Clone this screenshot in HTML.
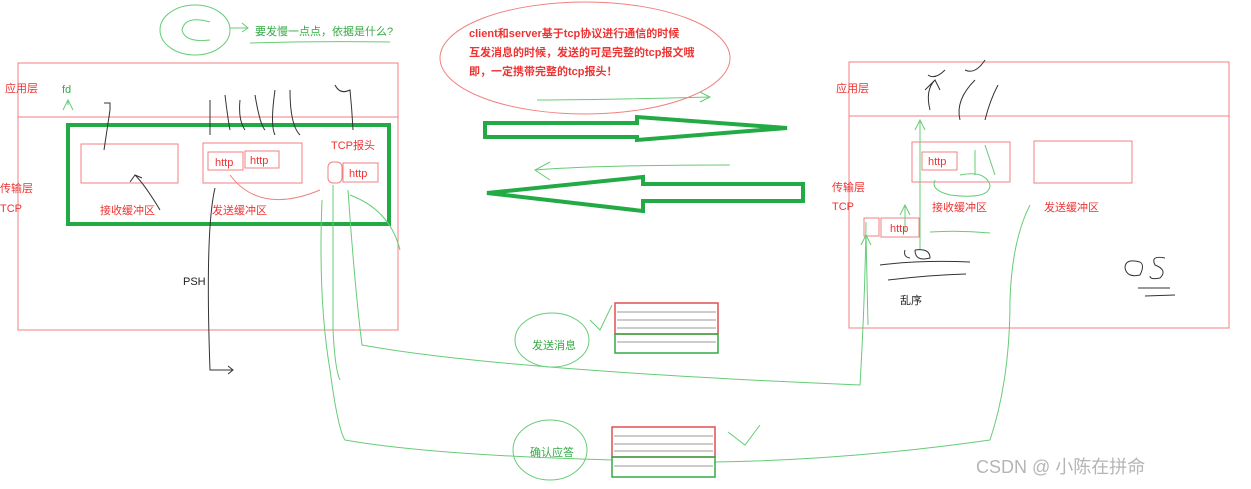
<!DOCTYPE html>
<html><head><meta charset="utf-8"><style>
html,body{margin:0;padding:0;background:#fff;}
svg{display:block;}
text{font-family:"Liberation Sans","Noto Sans CJK SC",sans-serif;}
</style></head><body>
<svg width="1251" height="489" viewBox="0 0 1251 489" xmlns="http://www.w3.org/2000/svg">
<g fill="none" stroke="#f08080" stroke-width="1">
<rect x="18" y="63" width="380" height="267"/>
<line x1="18" y1="117" x2="398" y2="117"/>
<rect x="81" y="144" width="97" height="39"/>
<rect x="203" y="143" width="99" height="40"/>
<rect x="208" y="152" width="35" height="18"/>
<rect x="245" y="151" width="34" height="17"/>
<rect x="328" y="162" width="14" height="21" rx="5"/>
<rect x="343" y="163" width="35" height="19"/>
<rect x="849" y="62" width="380" height="266"/>
<line x1="849" y1="116" x2="1229" y2="116"/>
<rect x="912" y="142" width="98" height="40"/>
<rect x="1034" y="141" width="98" height="42"/>
<rect x="922" y="152" width="35" height="18"/>
<rect x="864" y="218" width="15" height="18"/>
<rect x="881" y="218" width="38" height="19"/>
<ellipse cx="585" cy="58" rx="145" ry="56"/>
<path d="M230 175 Q260 215 320 190" />
</g>
<rect x="68" y="125" width="321" height="99" fill="none" stroke="#22aa44" stroke-width="4"/>
<path d="M485 123 H637 V117 L787 128 L637 140 V137 H485 Z" fill="none" stroke="#22aa44" stroke-width="4"/>
<path d="M487 193 L643 177 V184 H803 V201 H643 V211 Z" fill="none" stroke="#22aa44" stroke-width="4"/>
<g fill="none" stroke="#66cc77" stroke-width="1">
<ellipse cx="195" cy="30" rx="35" ry="25"/>
<path d="M210 22 Q185 15 182 30 Q185 43 210 40"/>
<path d="M230 28 H248 M242 23 L248 28 L242 32"/>
<path d="M250 43 Q320 41 390 42"/>
<path d="M537 100 Q600 100 710 97 M700 92 L710 97 L700 102"/>
<path d="M535 170 Q600 165 730 165 M550 162 L535 170 L550 180"/>
<ellipse cx="552" cy="340" rx="37" ry="27"/>
<ellipse cx="550" cy="450" rx="37" ry="30"/>
<path d="M590 320 L600 330 L612 305"/>
<path d="M728 432 L745 445 L760 425"/>
<path d="M322 200 Q318 300 330 370 Q338 430 345 440 Q430 455 612 460"/>
<path d="M715 462 Q850 460 990 440 Q1010 380 1010 300 Q1012 240 1030 205"/>
<path d="M348 190 Q355 290 362 345 Q500 370 860 385 Q865 300 866 222"/>
<path d="M333 185 V330 Q335 370 340 380"/>
<path d="M350 195 Q390 210 400 250"/>
<path d="M920 250 V120 M915 130 L920 120 L925 130"/>
<path d="M905 232 V205 M900 215 L905 205 L910 215"/>
<path d="M868 325 L866 235 M861 245 L866 235 L871 245"/>
<path d="M935 180 Q930 190 950 195 Q990 200 990 185 Q985 170 960 175"/>
<path d="M930 232 Q960 230 990 233"/>
<path d="M975 150 V175 M985 145 L995 175"/>
<path d="M63 110 L68 100 L73 110 M68 100 V105"/>
</g>
<g fill="none" stroke="#333" stroke-width="1">
<path d="M104 150 L110 110 M104 103 H110 L110 110"/>
<path d="M160 210 Q145 185 135 175 L130 182 M135 175 L142 178"/>
<path d="M215 188 Q205 230 210 370 H233 M228 366 L233 370 L228 374"/>
<path d="M210 100 V135 M225 95 Q228 120 230 130 M240 100 Q238 120 245 130 M255 95 Q260 125 265 130 M275 90 Q270 125 275 135 M290 90 Q290 125 300 135"/>
<path d="M335 85 Q340 95 350 90 Q352 110 353 130"/>
<path d="M930 110 Q925 90 935 80 M925 90 L935 80 L940 90"/>
<path d="M960 120 Q955 100 975 80 M985 120 Q990 100 998 85"/>
<path d="M928 75 Q935 80 945 70 M965 70 Q975 75 985 60"/>
<path d="M880 265 Q920 260 970 262 M888 280 Q930 275 966 274"/>
<path d="M905 250 Q903 257 910 258 M915 250 Q930 248 930 258 Q915 262 915 250"/>
<path d="M1140 262 Q1125 258 1125 268 Q1127 278 1140 275 Q1145 265 1140 262 M1165 258 Q1150 255 1155 265 Q1168 270 1160 278 Q1150 280 1150 276"/>
<line x1="1138" y1="288" x2="1170" y2="288"/><line x1="1145" y1="296" x2="1175" y2="295"/>
</g>
<g font-size="11" fill="#ee3333">
<text x="5" y="92">应用层</text>
<text x="0" y="192">传输层</text>
<text x="0" y="212">TCP</text>
<text x="100" y="214">接收缓冲区</text>
<text x="212" y="214">发送缓冲区</text>
<text x="331" y="149">TCP报头</text>
<text x="215" y="166">http</text>
<text x="250" y="164">http</text>
<text x="349" y="177">http</text>
<text x="836" y="92">应用层</text>
<text x="832" y="191">传输层</text>
<text x="832" y="210">TCP</text>
<text x="932" y="211">接收缓冲区</text>
<text x="1044" y="211">发送缓冲区</text>
<text x="928" y="165">http</text>
<text x="890" y="232">http</text>
</g>
<g font-size="11" fill="#ee3333" font-weight="bold">
<text x="469" y="37">client和server基于tcp协议进行通信的时候</text>
<text x="469" y="56">互发消息的时候，发送的可是完整的tcp报文哦</text>
<text x="469" y="75">即，一定携带完整的tcp报头！</text>
</g>
<g font-size="11" fill="#33aa44">
<text x="62" y="93">fd</text>
<text x="255" y="35">要发慢一点点，依据是什么?</text>
<text x="532" y="349">发送消息</text>
<text x="530" y="456">确认应答</text>
</g>
<text x="183" y="285" font-size="11" fill="#222">PSH</text>
<text x="900" y="304" font-size="11" fill="#222">乱序</text>
<g fill="none" stroke-width="1.5">
<rect x="615" y="303" width="103" height="31" stroke="#e05050"/>
<rect x="615" y="334" width="103" height="19" stroke="#33aa44"/>
<rect x="612" y="427" width="103" height="30" stroke="#e05050"/>
<rect x="612" y="457" width="103" height="20" stroke="#33aa44"/>
</g>
<g stroke="#999" stroke-width="1">
<line x1="617" y1="312" x2="716" y2="312"/><line x1="617" y1="320" x2="716" y2="320"/><line x1="617" y1="328" x2="716" y2="328"/><line x1="617" y1="342" x2="716" y2="342"/>
<line x1="614" y1="436" x2="713" y2="436"/><line x1="614" y1="444" x2="713" y2="444"/><line x1="614" y1="451" x2="713" y2="451"/><line x1="614" y1="466" x2="713" y2="466"/>
</g>
<text x="976" y="473" font-size="18" fill="#b5b5b5">CSDN @  小陈在拼命</text>
</svg>
</body></html>
